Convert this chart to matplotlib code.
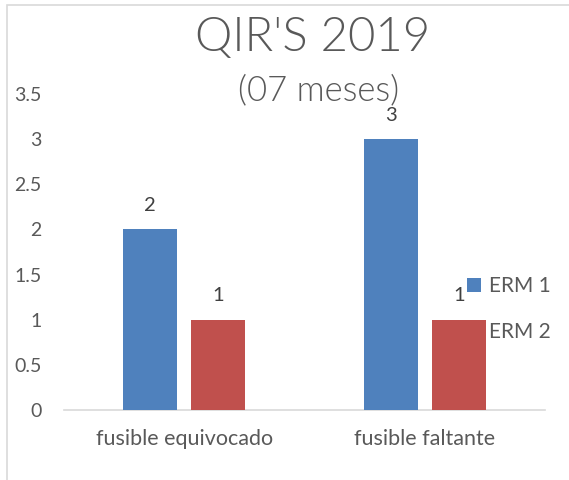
import numpy as np
import matplotlib
matplotlib.use("Agg")
from matplotlib import pyplot as plt
from matplotlib.patches import Rectangle

categories = ["fusible equivocado", "fusible faltante"]
erm1 = [2, 3]
erm2 = [1, 1]
series_names = ["ERM 1", "ERM 2"]
yticks = [0, 0.5, 1, 1.5, 2, 2.5, 3, 3.5]
ytick_labels = ["0", "0.5", "1", "1.5", "2", "2.5", "3", "3.5"]

plt.rcParams["font.family"] = ["Lato", "DejaVu Sans"]
text_color = "#595959"

fig = plt.figure(figsize=(5.69, 4.8), dpi=100)
ax = fig.add_axes([64 / 569, 70 / 480, 481 / 569, 316 / 480])

# chart border (only left and top visible in the reference)
fig.patches.append(Rectangle((7 / 569, -0.2), 1.5, 1.2 - 5 / 480,
                             transform=fig.transFigure, fill=False,
                             edgecolor="#d9d9d9", linewidth=1.2))

x = np.arange(len(categories))
w = 0.225
off = 0.142
b1 = ax.bar(x - off, erm1, w, color="#4F81BD", label=series_names[0], zorder=3)
b2 = ax.bar(x + off, erm2, w, color="#C0504D", label=series_names[1], zorder=3)
ax.bar_label(b1, padding=11, fontsize=14.5, color="#404040")
ax.bar_label(b2, padding=11, fontsize=14.5, color="#404040")

ax.set_xlim(-0.5, 1.5)
ax.set_ylim(0, 3.5)
ax.set_yticks(yticks)
ax.set_yticklabels(ytick_labels)
ax.set_xticks(x)
ax.set_xticklabels(categories)
ax.tick_params(axis="y", length=0, pad=16, labelsize=14, labelcolor=text_color)
ax.tick_params(axis="x", length=0, pad=14, labelsize=15.5, labelcolor=text_color)
for s in ["top", "right", "left"]:
    ax.spines[s].set_visible(False)
ax.spines["bottom"].set_color("#d9d9d9")
ax.spines["bottom"].set_linewidth(1.2)

leg = ax.legend(loc="upper left", bbox_to_anchor=(467 / 569, 1 - 276 / 480),
                bbox_transform=fig.transFigure, frameon=False, fontsize=15,
                handlelength=0.68, handleheight=0.68, handletextpad=0.36,
                labelspacing=1.25, borderpad=0, borderaxespad=0)
for t in leg.get_texts():
    t.set_color(text_color)
leg.set_zorder(1)

fig.text(313 / 569, 1 - 38 / 480, "QIR'S 2019", ha="center", va="center",
         fontsize=34, color=text_color, fontweight=300)
fig.text(319 / 569, 1 - 90 / 480, "(07 meses)", ha="center", va="center",
         fontsize=25, color=text_color, fontweight=300)

fig.savefig("out.png", dpi=100)
